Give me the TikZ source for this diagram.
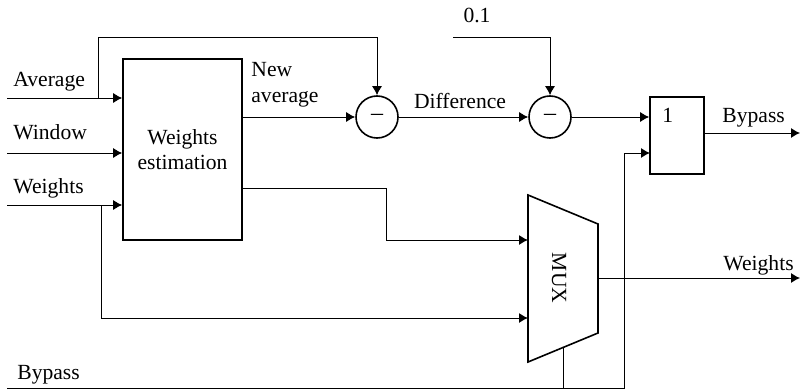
\documentclass[tikz,border=0pt]{standalone}
\usepackage{fontspec}
\setmainfont{Liberation Serif}
\usetikzlibrary{arrows.meta}
\tikzset{
  wire/.style={line width=0.5pt},
  arr/.style={wire,-{Latex[length=4.5pt,width=5pt]}},
  blk/.style={draw,line width=0.8pt},
  sum/.style={blk,circle,minimum size=21pt,inner sep=0pt,font=\fontsize{12}{12}\selectfont},
  lbl/.style={inner sep=0pt,font=\fontsize{10.8}{12.8}\selectfont}
}
\begin{document}
\begin{tikzpicture}[x=0.5pt,y=-0.5pt]
\useasboundingbox (0,0) rectangle (801,390);
\node[blk,lbl,minimum width=59.5pt,minimum height=90.5pt,align=center] (est) at (182.5,149.5) {Weights\\estimation};
\node[sum] (sub1) at (377,117) {--};
\node[sum] (sub2) at (550,117) {--};
\node[blk,minimum width=27pt,minimum height=38.5pt] (sel) at (677,135.5) {};
\node[lbl,anchor=base west] (one) at (662,122) {1};
\draw[blk] (528,195) -- (598,224) -- (598,333) -- (528,362) -- cycle;
\node[lbl,rotate=-90] (mux) at (559,278) {MUX};
\coordinate (inavg) at (7,98);
\coordinate (inwin) at (7,153);
\coordinate (inwgt) at (7,205);
\coordinate (inbyp) at (7,388);
\coordinate (brA) at (98,98);
\coordinate (brW) at (101,205);
\coordinate (topA) at (377,38);
\coordinate (thrin) at (453,38);
\coordinate (estlo) at (242,188);
\coordinate (muxa) at (528,240);
\coordinate (muxb) at (528,318);
\coordinate (muxo) at (598,278);
\coordinate (muxsel) at (563,347.5);
\coordinate (selb) at (650,153);
\coordinate (selo) at (704,133);
\coordinate (outb) at (800,133);
\coordinate (outw) at (800,278);
\node[lbl,anchor=base west] (lavg) at (13,86) {Average};
\node[lbl,anchor=base west] (lwin) at (13,139) {Window};
\node[lbl,anchor=base west] (lwgt) at (13,193) {Weights};
\node[lbl,anchor=base west] (lbyp) at (17,379) {Bypass};
\node[lbl,anchor=west,align=left] (lnew) at (251,85) {New\\average};
\node[lbl,anchor=base] (ldif) at (460,108) {Difference};
\node[lbl,anchor=base] (thr) at (477,23) {0.1};
\node[lbl,anchor=base west] (lbo) at (722,122) {Bypass};
\node[lbl,anchor=base west] (lwo) at (723,270) {Weights};
\draw[arr] (inavg) -- (inavg -| est.west);
\draw[arr] (inwin) -- (inwin -| est.west);
\draw[arr] (inwgt) -- (inwgt -| est.west);
\draw[arr] (brA) |- (topA) -- (sub1);
\draw[arr] (brW) |- (muxb);
\draw[arr] (est.east |- sub1) -- (sub1);
\draw[arr] (estlo) -- ++(144,0) |- (muxa);
\draw[arr] (sub1) -- (sub2);
\draw[arr] (thrin) -| (sub2);
\draw[arr] (sub2) -- (sub2 -| sel.west);
\draw[arr] (inbyp) -- ++(617,0) |- (selb);
\draw[wire] (muxsel) -- (muxsel |- inbyp);
\draw[arr] (muxo) -- (outw);
\draw[arr] (selo) -- (outb);
\end{tikzpicture}
\end{document}
